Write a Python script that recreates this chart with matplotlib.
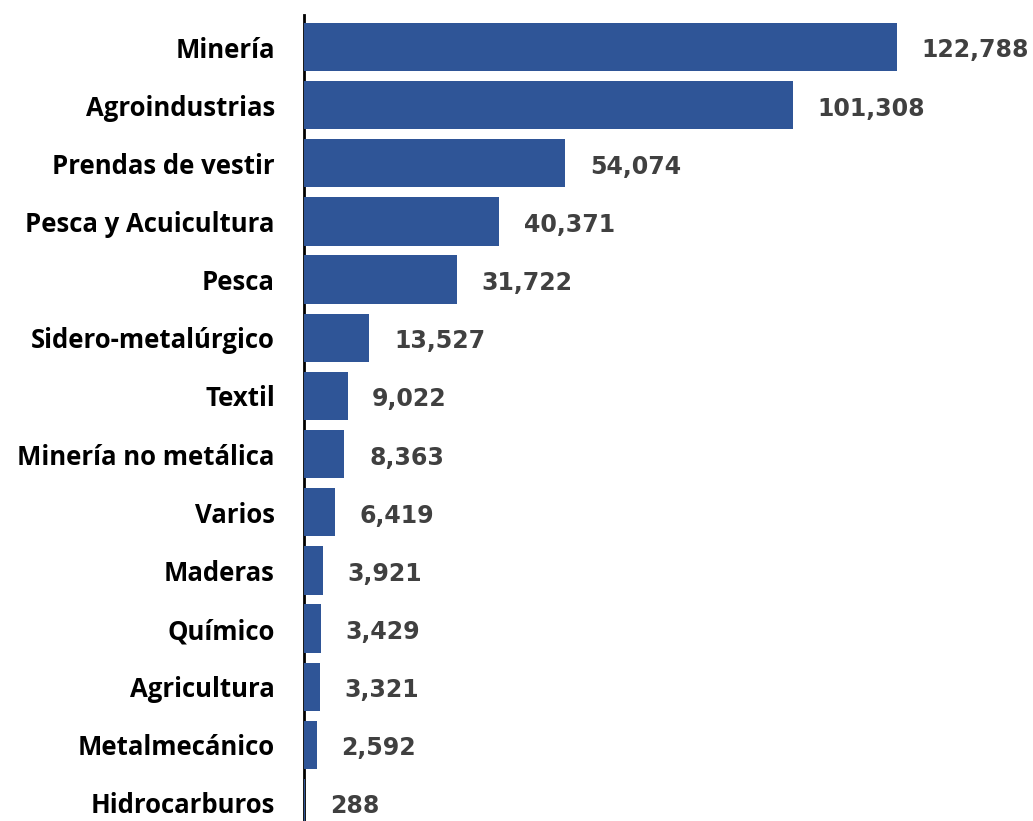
import matplotlib.pyplot as plt
import numpy as np

sectores = ['Minería', 'Agroindustrias', 'Prendas de vestir', 'Pesca y Acuicultura',
            'Pesca', 'Sidero-metalúrgico', 'Textil', 'Minería no metálica', 'Varios',
            'Maderas', 'Químico', 'Agricultura', 'Metalmecánico', 'Hidrocarburos']
valores = [122788, 101308, 54074, 40371, 31722, 13527, 9022, 8363, 6419,
           3921, 3429, 3321, 2592, 288]

plt.rcParams['font.family'] = ['Open Sans', 'DejaVu Sans']

fig = plt.figure(figsize=(10.33, 8.21), dpi=100)
ax = fig.add_axes([0.2943, 0.0, 0.7057, 0.9817])

y = np.arange(len(sectores))
ax.barh(y, valores, height=0.83, color='#2F5597', zorder=3)

for yi, v in zip(y, valores):
    ax.text(v + 5100, yi + 0.06, '{:,}'.format(v), va='center', ha='left',
            fontsize=17, fontweight='bold', color='#404040', family='DejaVu Sans')

ax.set_yticks(y)
ax.set_yticklabels(sectores, fontsize=18.5, fontweight='bold')
ax.set_xticks([])
ax.set_xlim(0, 151000)
ax.set_ylim(13.31, -0.55)
ax.tick_params(axis='y', length=0, pad=21)
for s in ['top', 'right', 'bottom']:
    ax.spines[s].set_visible(False)
ax.spines['left'].set_linewidth(2)
ax.spines['left'].set_color('black')
ax.spines['left'].set_zorder(2)

fig.savefig('out.png', dpi=100)
